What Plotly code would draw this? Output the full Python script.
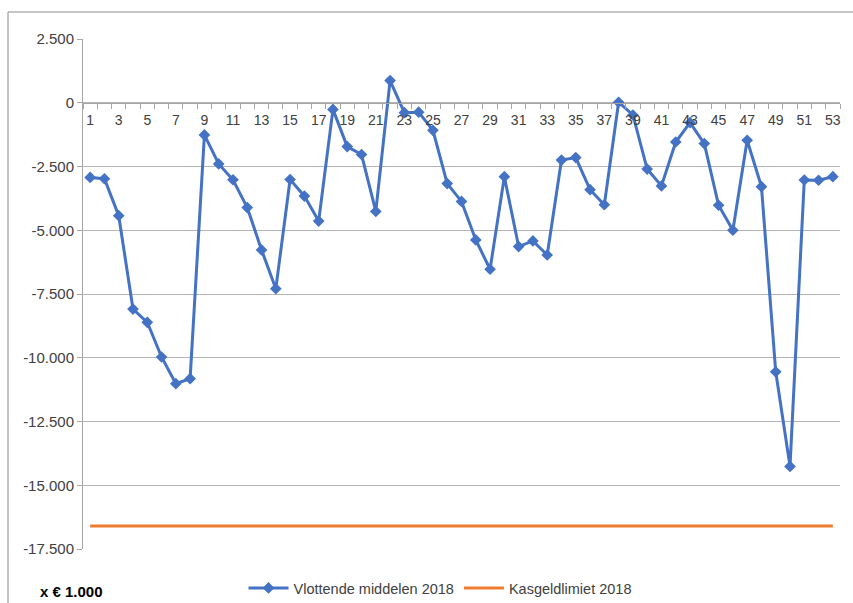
import plotly.graph_objects as go

weeks = list(range(1, 54))
vlottende = [-2930, -2980, -4430, -8090, -8610, -9970, -11015, -10820, -1260, -2400,
             -3020, -4110, -5770, -7290, -3010, -3660, -4640, -260, -1720, -2030,
             -4260, 870, -390, -370, -1080, -3170, -3870, -5380, -6530, -2900,
             -5640, -5420, -5970, -2250, -2150, -3410, -4000, 20, -480, -2600,
             -3260, -1540, -780, -1600, -4020, -5000, -1470, -3290, -10550, -14260,
             -3030, -3040, -2900]
kasgeld = [-16600] * 53
ytick_vals = [2500, 0, -2500, -5000, -7500, -10000, -12500, -15000, -17500]
ytick_text = ["2.500", "0", "-2.500", "-5.000", "-7.500", "-10.000", "-12.500", "-15.000", "-17.500"]
xtick_vals = list(range(1, 54, 2))

L, R, T, B = 83, 840, 39, 549
W, H = 853, 603
pw, ph = R - L, B - T

def px(x):
    return (x - L) / pw

def py(y):
    return (B - y) / ph

fig = go.Figure()
fig.add_trace(go.Scatter(
    x=weeks, y=vlottende, mode="lines+markers", name="Vlottende middelen 2018",
    line=dict(color="#4472C4", width=3),
    marker=dict(symbol="diamond", size=9, color="#4472C4"),
))
fig.add_trace(go.Scatter(
    x=weeks, y=kasgeld, mode="lines", name="Kasgeldlimiet 2018",
    line=dict(color="#ED7D31", width=3),
))

fig.update_layout(
    width=W, height=H,
    margin=dict(l=L, r=W - R, t=T, b=H - B, autoexpand=False),
    plot_bgcolor="white", paper_bgcolor="white",
    font=dict(family="Liberation Sans, Arial, sans-serif", color="#404040", size=14),
    showlegend=True,
    legend=dict(orientation="h", x=px(440), xanchor="center", y=py(588), yanchor="middle",
                font=dict(size=14.5, color="#404040"), itemwidth=40, tracegroupgap=0,
                bgcolor="rgba(0,0,0,0)"),
    xaxis=dict(
        range=[0.5, 53.5], tickmode="array", tickvals=xtick_vals,
        ticktext=[str(v) for v in xtick_vals], ticks="", showgrid=False,
        showline=True, linecolor="#a6a6a6", linewidth=1, zeroline=False,
        anchor="free", position=py(103), ticklabelstandoff=4,
        tickfont=dict(size=14, color="#404040"),
        minor=dict(tickvals=[i + 0.5 for i in range(0, 54)], ticks="outside",
                   ticklen=5, tickcolor="#a6a6a6", tickwidth=1, showgrid=False),
    ),
    yaxis=dict(
        range=[-17500, 2500], tickmode="array", tickvals=ytick_vals, ticktext=ytick_text,
        showgrid=True, gridcolor="#b4b4b4", gridwidth=1, zeroline=False,
        showline=True, linecolor="#a6a6a6", linewidth=1,
        ticks="outside", ticklen=5, tickcolor="#a6a6a6",
        tickfont=dict(size=15, color="#404040"),
    ),
    shapes=[
        dict(type="line", xref="paper", yref="paper", x0=px(8), x1=px(853), y0=py(12), y1=py(12),
             line=dict(color="#8c8c8c", width=1)),
        dict(type="line", xref="paper", yref="paper", x0=px(8), x1=px(8), y0=py(12), y1=py(603),
             line=dict(color="#8c8c8c", width=1)),
    ],
    annotations=[
        dict(text="<b>x € 1.000</b>", xref="paper", yref="paper", x=px(38), y=py(591),
             xanchor="left", yanchor="middle", showarrow=False,
             font=dict(size=15, color="#000000")),
    ],
)

fig.write_html("out.html", config={"displayModeBar": False},
               post_script="document.body.style.margin='0px';")
